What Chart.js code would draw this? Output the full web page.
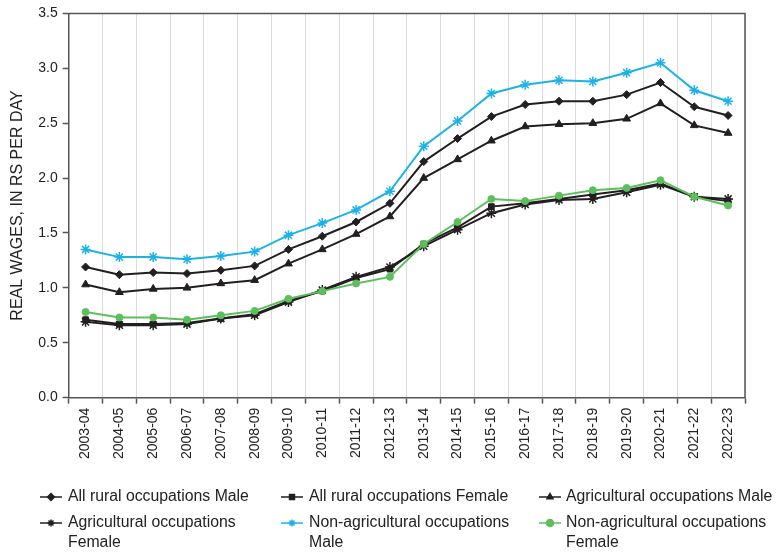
<!DOCTYPE html>
<html><head><meta charset="utf-8">
<script src="https://cdn.jsdelivr.net/npm/chart.js@4/dist/chart.umd.min.js"></script>
<style>html,body{margin:0;padding:0;background:#fff;}canvas{display:block;}</style>
</head><body>
<canvas id="c" width="776" height="555"></canvas>
<script>
const categories = ["2003-04","2004-05","2005-06","2006-07","2007-08","2008-09","2009-10","2010-11","2011-12","2012-13","2013-14","2014-15","2015-16","2016-17","2017-18","2018-19","2019-20","2020-21","2021-22","2022-23"];
const allRuralMale = [1.19,1.12,1.14,1.13,1.16,1.20,1.35,1.47,1.60,1.77,2.15,2.36,2.56,2.67,2.70,2.70,2.76,2.87,2.65,2.57];
const allRuralFemale = [0.71,0.67,0.67,0.68,0.72,0.76,0.88,0.97,1.09,1.17,1.40,1.55,1.74,1.77,1.81,1.85,1.89,1.95,1.83,1.79];
const agriMale = [1.03,0.96,0.99,1.00,1.04,1.07,1.22,1.35,1.49,1.65,2.00,2.17,2.34,2.47,2.49,2.50,2.54,2.68,2.48,2.41];
const agriFemale = [0.69,0.66,0.66,0.67,0.72,0.75,0.87,0.98,1.10,1.19,1.38,1.53,1.68,1.76,1.80,1.81,1.87,1.94,1.83,1.81];
const nonAgriMale = [1.35,1.28,1.28,1.26,1.29,1.33,1.48,1.59,1.71,1.88,2.29,2.52,2.77,2.85,2.89,2.88,2.96,3.05,2.80,2.70];
const nonAgriFemale = [0.78,0.73,0.73,0.71,0.75,0.79,0.90,0.97,1.04,1.10,1.40,1.60,1.81,1.79,1.84,1.89,1.91,1.98,1.83,1.75];
const yTicks = [0,0.5,1.0,1.5,2.0,2.5,3.0,3.5];
const seriesLabels = [["All rural occupations Male"],["All rural occupations Female"],["Agricultural occupations Male"],["Agricultural occupations","Female"],["Non-agricultural occupations","Male"],["Non-agricultural occupations","Female"]];
const yTitle = "REAL WAGES, IN RS PER DAY";

const BLACK = "#231f20", CYAN = "#1cb2e8", GREEN = "#5cbf5c";
const FONT = "'Liberation Sans', Arial, sans-serif";

function ds(label, data, color, style, radius, order){
  return {label, data, borderColor: color, backgroundColor: color, pointBackgroundColor: color, pointBorderColor: color,
    pointStyle: style, pointRadius: radius, pointBorderWidth: style==='star'?1.5:1, borderWidth: 2, tension: 0, order, fill:false};
}
const datasets = [
  ds(seriesLabels[0], allRuralMale, BLACK, 'rectRot', 4, 3),
  ds(seriesLabels[1], allRuralFemale, BLACK, 'rect', 4, 2),
  ds(seriesLabels[2], agriMale, BLACK, 'triangle', 4.5, 4),
  ds(seriesLabels[3], agriFemale, BLACK, 'star', 5, 1),
  ds(seriesLabels[4], nonAgriMale, CYAN, 'star', 5, 5),
  ds(seriesLabels[5], nonAgriFemale, GREEN, 'circle', 3.5, 0)
];

const frame = {
  id: 'frame',
  afterDatasetsDraw(chart){
    const a = chart.chartArea, ctx = chart.ctx;
    ctx.save(); ctx.strokeStyle = '#555'; ctx.lineWidth = 1.5;
    ctx.beginPath(); ctx.moveTo(a.left, a.top); ctx.lineTo(a.right, a.top); ctx.lineTo(a.right, a.bottom); ctx.stroke();
    ctx.restore();
  }
};
const gridLegend = {
  id: 'gridLegend',
  afterDraw(chart){
    const ctx = chart.ctx;
    const cols = [{lx:40, tx:68},{lx:281, tx:309},{lx:539, tx:566}];
    const rows = [497, 523];
    ctx.save();
    ctx.font = "15.8px " + FONT;
    ctx.textBaseline = 'middle';
    chart.data.datasets.forEach((d, i) => {
      const c = cols[i % 3], y = rows[Math.floor(i / 3)];
      ctx.strokeStyle = d.borderColor; ctx.fillStyle = d.borderColor; ctx.lineWidth = 1.5;
      ctx.beginPath(); ctx.moveTo(c.lx, y); ctx.lineTo(c.lx + 22, y); ctx.stroke();
      Chart.helpers.drawPoint(ctx, {pointStyle: d.pointStyle, radius: 3.5, rotation: 0, borderWidth: 1.5}, c.lx + 11, y);
      ctx.fillStyle = '#222';
      d.label.forEach((t, k) => ctx.fillText(t, c.tx, y + k * 20));
    });
    ctx.restore();
  }
};

new Chart(document.getElementById('c'), {
  type: 'line',
  data: { labels: categories, datasets },
  options: {
    responsive: false, animation: false,
    layout: { padding: { left: 8, right: 31, top: 5, bottom: 92 } },
    plugins: { legend: { display: false }, tooltip: { enabled: false } },
    scales: {
      x: {
        type: 'category', offset: true,
        grid: { offset: true, color: '#dcdcdc', lineWidth: 1, tickColor: '#555', tickLength: 6, tickWidth: 1.5 },
        border: { color: '#555', width: 1.5 },
        ticks: { color: '#222', font: { family: FONT, size: 14 }, minRotation: 90, maxRotation: 90, autoSkip: false, padding: 4 }
      },
      y: {
        min: 0, max: 3.5,
        afterBuildTicks(axis){ axis.ticks = yTicks.map(v => ({value: v})); },
        grid: { drawOnChartArea: false, tickColor: '#555', tickLength: 6, tickWidth: 1.5 },
        border: { color: '#555', width: 1.5 },
        ticks: { color: '#222', font: { family: FONT, size: 14 }, padding: 5, callback: v => Number(v).toFixed(1) },
        title: { display: true, text: yTitle, color: '#222', font: { family: FONT, size: 16 }, padding: { top: 0, bottom: 6 } }
      }
    }
  },
  plugins: [frame, gridLegend]
});
</script>
</body></html>
